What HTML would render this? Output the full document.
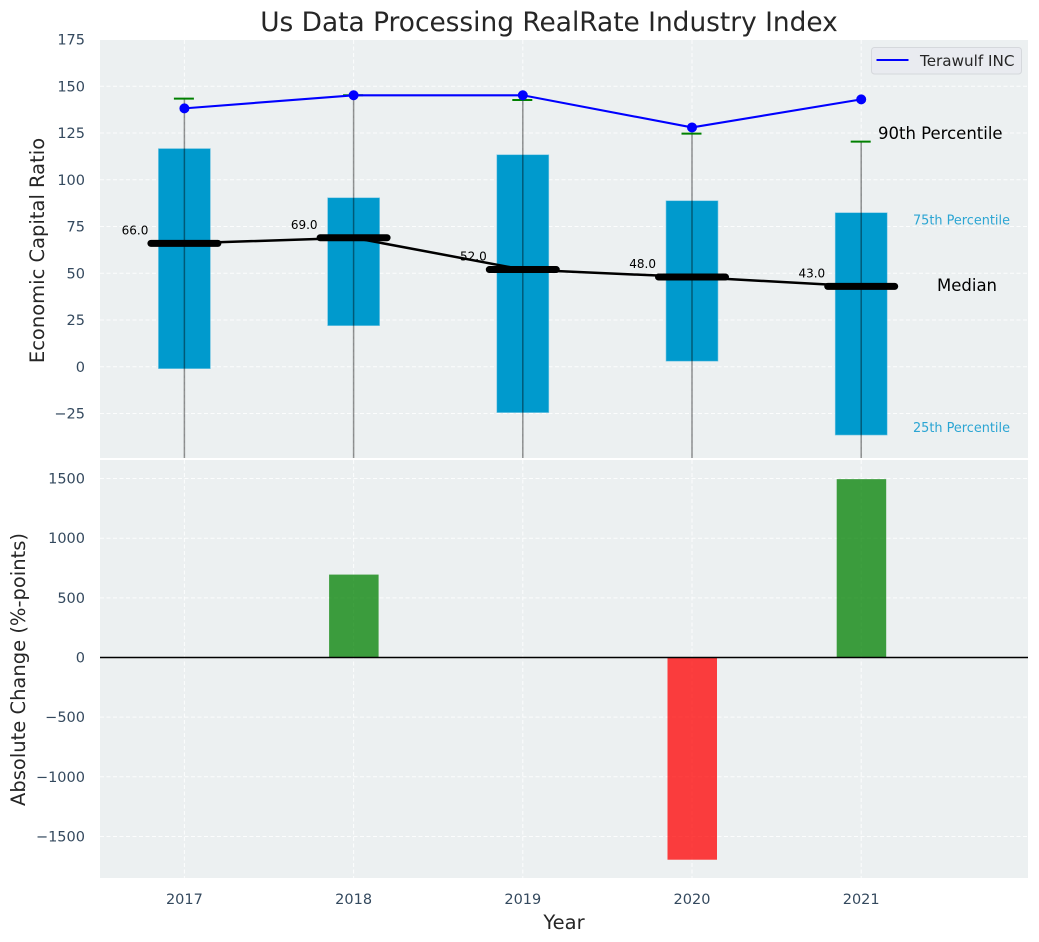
<!DOCTYPE html>
<html>
<head>
<meta charset="utf-8">
<title>Us Data Processing RealRate Industry Index</title>
<style>
html,body{margin:0;padding:0;background:#fff;}
svg{display:block;font-family:"DejaVu Sans","Liberation Sans",sans-serif;}
</style>
</head>
<body>
<svg id="chart" xmlns="http://www.w3.org/2000/svg" width="1039" height="942" viewBox="0 0 1039 942">
<defs>
<clipPath id="clip-top"><rect x="100" y="40" width="928" height="418"/></clipPath>
<clipPath id="clip-bottom"><rect x="100" y="460" width="928" height="418"/></clipPath>
</defs>
<rect x="100" y="40" width="928" height="418" fill="#ecf0f1"/>
<rect x="100" y="460" width="928" height="418" fill="#ecf0f1"/>
<g id="grid"></g>
<g id="top-marks" clip-path="url(#clip-top)"></g>
<g id="bottom-marks" clip-path="url(#clip-bottom)"></g>
<g id="ticks" font-size="14.5" fill="#34495e"></g>
<text x="549" y="31" text-anchor="middle" font-size="26.4" fill="#262626">Us Data Processing RealRate Industry Index</text>
<text transform="translate(44,250.5) rotate(-90)" text-anchor="middle" font-size="19.5" fill="#262626">Economic Capital Ratio</text>
<text transform="translate(25,669.5) rotate(-90)" text-anchor="middle" font-size="19.5" fill="#262626">Absolute Change (%-points)</text>
<text x="564" y="929" text-anchor="middle" font-size="19.5" fill="#262626">Year</text>
<text x="878" y="139" font-size="16.5" fill="#000">90th Percentile</text>
<text x="913" y="224.500" font-size="12.85" fill="#2ba5d3">75th Percentile</text>
<text x="937" y="291" font-size="16.5" fill="#000">Median</text>
<text x="913" y="432" font-size="12.85" fill="#2ba5d3">25th Percentile</text>
<g>
<rect x="871.500" y="47.500" width="150" height="26.500" rx="3" fill="#e9ebf0" stroke="#d5d8dc" stroke-width="1"/>
<line x1="876.500" y1="60" x2="908.500" y2="60" stroke="#0000ff" stroke-width="2"/>
<text x="920" y="66" font-size="15.2" fill="#262626">Terawulf INC</text>
</g>
</svg>
<script>
const years = [2017, 2018, 2019, 2020, 2021];
const companyValues = [138.2, 145.2, 145.2, 128, 143];
const p90Values = [143.4, 145.2, 142.7, 124.7, 120.4];
const p75Values = [116.7, 90.4, 113.4, 88.8, 82.4];
const medianValues = [66, 69, 52, 48, 43];
const p25Values = [-1, 22, -24.5, 3, -36.5];
const p10Values = [-70, -60, -80, -65, -90];
const changeValues = [0, 695, 0, -1695, 1495];
const topTicks = [175, 150, 125, 100, 75, 50, 25, 0, -25];
const bottomTicks = [1500, 1000, 500, 0, -500, -1000, -1500];

const NS = 'http://www.w3.org/2000/svg';
const xScale = function (year) { return 184.4 + (year - 2017) * 169.2; };
const yTop = function (v) { return 366.8 - v * 1.87; };
const yBottom = function (v) { return 657.5 - v * 0.1193; };

function mk(parent, tag, attrs, text) {
  const el = document.createElementNS(NS, tag);
  for (const k in attrs) { el.setAttribute(k, attrs[k]); }
  if (text !== undefined) { el.textContent = text; }
  parent.appendChild(el);
  return el;
}
function fmtTick(v) { return v < 0 ? '\u2212' + Math.abs(v) : String(v); }

const grid = document.getElementById('grid');
const ticks = document.getElementById('ticks');
const top_ = document.getElementById('top-marks');
const bottom_ = document.getElementById('bottom-marks');
const gridStyle = { stroke: '#ffffff', 'stroke-width': 1, 'stroke-dasharray': '4 2.5', 'stroke-opacity': 0.85 };

topTicks.forEach(function (t) {
  const y = yTop(t);
  if (t !== 175) {
    const g = mk(grid, 'line', Object.assign({ x1: 100, x2: 1028, y1: y, y2: y }, gridStyle));
    
    
  }
  const l = mk(ticks, 'text', { x: 85, y: y + 5, 'text-anchor': 'end' }, fmtTick(t));
  
  
});
bottomTicks.forEach(function (t) {
  const y = yBottom(t);
  const g = mk(grid, 'line', Object.assign({ x1: 100, x2: 1028, y1: y, y2: y }, gridStyle));
  
  
  const l = mk(ticks, 'text', { x: 85, y: y + 5, 'text-anchor': 'end' }, fmtTick(t));
  
  
});
years.forEach(function (yr) {
  const x = xScale(yr);
  const g1 = mk(grid, 'line', Object.assign({ x1: x, x2: x, y1: 40, y2: 458 }, gridStyle));
  
  
  const g2 = mk(grid, 'line', Object.assign({ x1: x, x2: x, y1: 460, y2: 878 }, gridStyle));
  
  
  const l = mk(ticks, 'text', { x: x, y: 904, 'text-anchor': 'middle' }, String(yr));
  
  
});

/* interquartile boxes */
years.forEach(function (yr, i) {
  const x = xScale(yr);
  const b = mk(top_, 'rect', {
    x: x - 26, width: 52,
    y: yTop(p75Values[i]),
    height: yTop(p25Values[i]) - yTop(p75Values[i]),
    fill: '#009acd', stroke: '#7cc8e4', 'stroke-width': 0.6
  });
  
  
});

/* whiskers and 90th percentile caps */
years.forEach(function (yr, i) {
  const x = xScale(yr);
  const w = mk(top_, 'line', {
    x1: x, x2: x, y1: yTop(p90Values[i]), y2: yTop(p10Values[i]),
    stroke: '#000', 'stroke-width': 1.5, 'stroke-opacity': 0.42
  });
  
  
  const c = mk(top_, 'line', {
    x1: x - 10.5, x2: x + 9.5, y1: yTop(p90Values[i]), y2: yTop(p90Values[i]),
    stroke: '#008000', 'stroke-width': 2
  });
  
  
});

/* median labels */
years.forEach(function (yr, i) {
  const t = mk(top_, 'text', {
    x: xScale(yr) - 49.4, y: yTop(medianValues[i]) - 9,
    'text-anchor': 'middle', 'font-size': 12, fill: '#000'
  }, medianValues[i].toFixed(1));
  
  
});

/* median line */
const medianLine = mk(top_, 'polyline', {
  points: years.map(function (yr, i) { return xScale(yr) + ',' + yTop(medianValues[i]); }).join(' '),
  fill: 'none', stroke: '#000', 'stroke-width': 2.5
});



years.forEach(function (yr, i) {
  const x = xScale(yr);
  const m = mk(top_, 'line', {
    x1: x - 33.5, x2: x + 33.5, y1: yTop(medianValues[i]), y2: yTop(medianValues[i]),
    stroke: '#000', 'stroke-width': 7, 'stroke-linecap': 'round'
  });
  
  
});

/* company line */
const companyLine = mk(top_, 'polyline', {
  points: years.map(function (yr, i) { return xScale(yr) + ',' + yTop(companyValues[i]); }).join(' '),
  fill: 'none', stroke: '#0000ff', 'stroke-width': 2.1
});



years.forEach(function (yr, i) {
  const p = mk(top_, 'circle', { cx: xScale(yr), cy: yTop(companyValues[i]), r: 5, fill: '#0000ff' });
  
  
});

/* change bars */
years.forEach(function (yr, i) {
  const v = changeValues[i];
  if (v === 0) { return; }
  const y0 = yBottom(0);
  const y1 = yBottom(v);
  const b = mk(bottom_, 'rect', {
    x: xScale(yr) - 24.5, width: 49.5,
    y: Math.min(y0, y1), height: Math.abs(y1 - y0),
    fill: v > 0 ? '#008000' : '#ff0000', 'fill-opacity': 0.75
  });
  
  
});
const zeroLine = mk(bottom_, 'line', { x1: 100, x2: 1028, y1: yBottom(0), y2: yBottom(0), stroke: '#000', 'stroke-width': 1.4 });


</script>
</body>
</html>
